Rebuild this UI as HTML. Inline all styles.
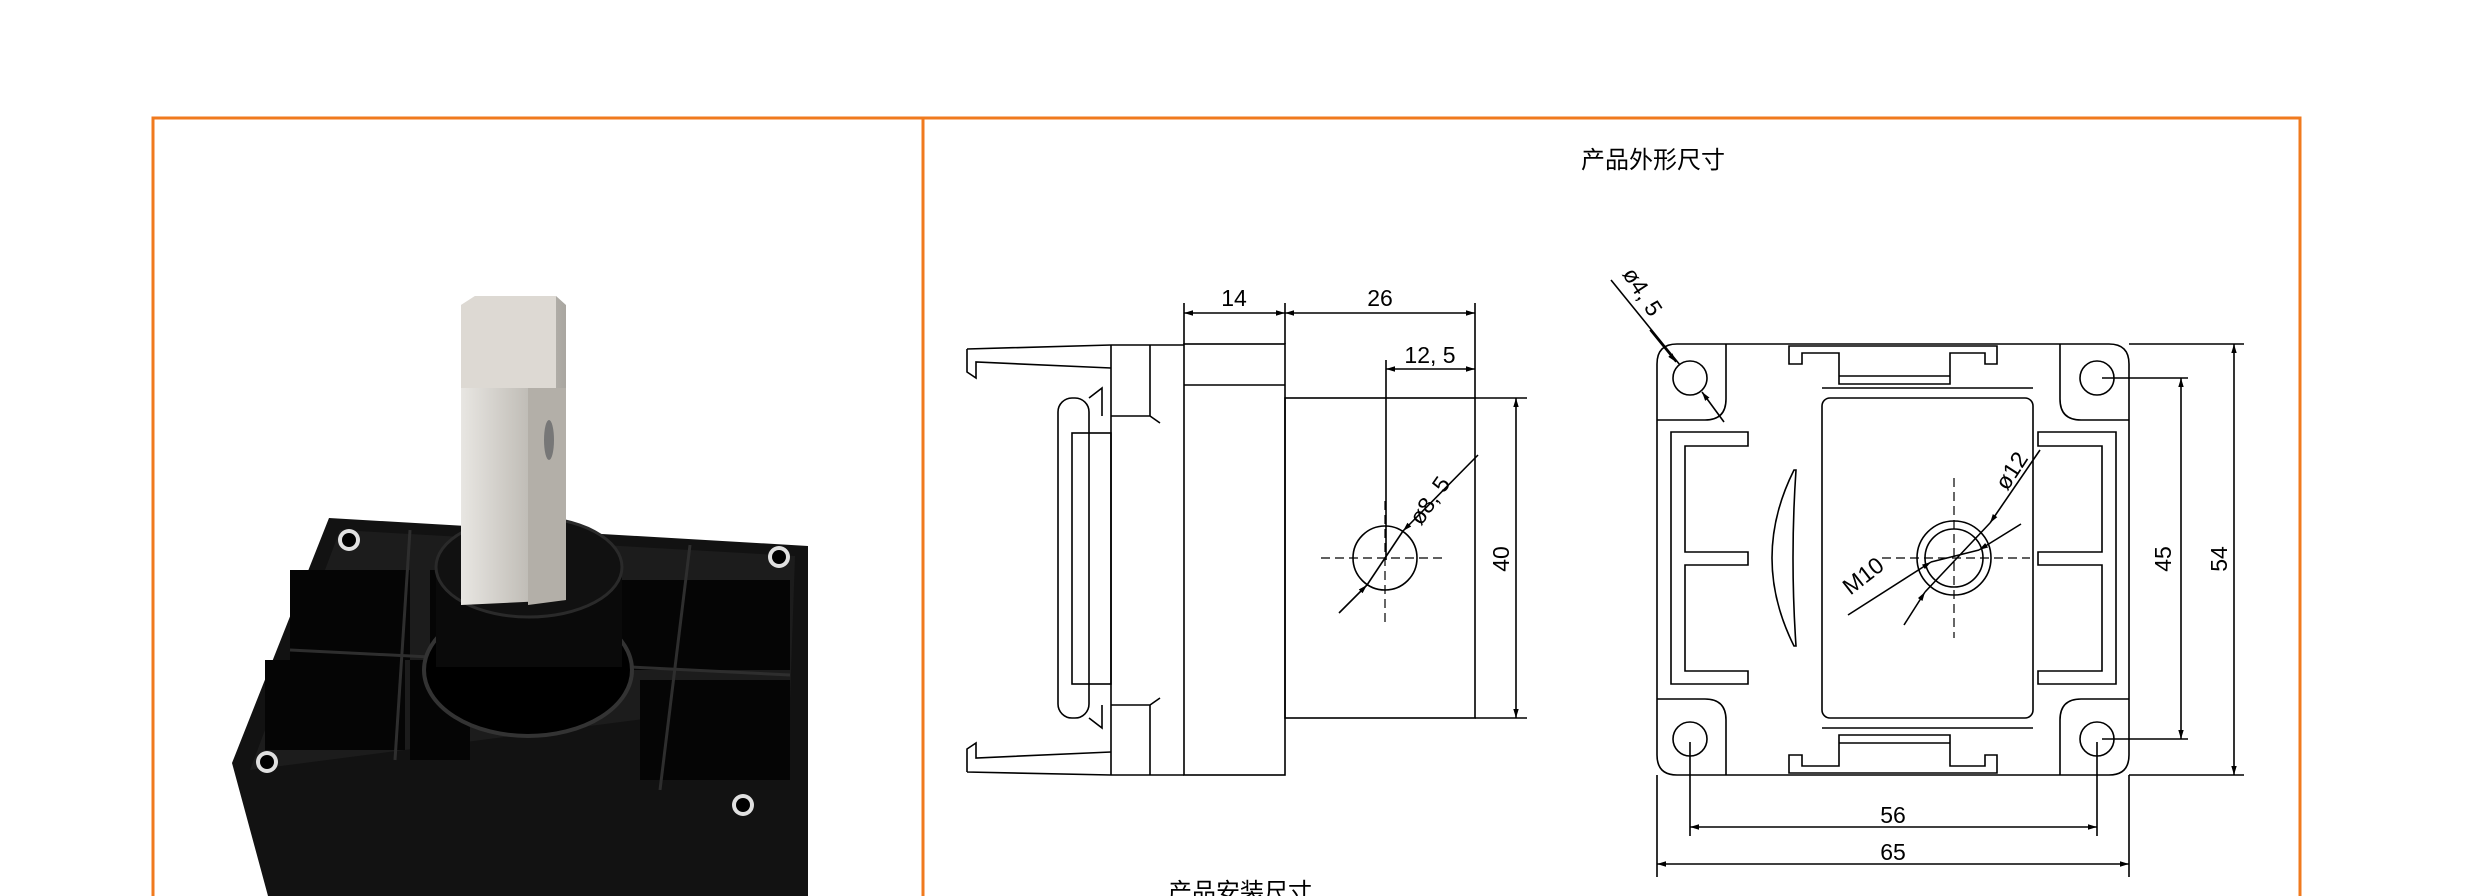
<!DOCTYPE html>
<html><head><meta charset="utf-8"><style>
html,body{margin:0;padding:0;background:#fff;}
svg{display:block;}
text{font-family:"Liberation Sans","Noto Sans CJK SC",sans-serif;fill:#000;}
</style></head><body>
<svg width="2480" height="896" viewBox="0 0 2480 896" xmlns="http://www.w3.org/2000/svg">
<defs>
<marker id="a" viewBox="0 0 10 10" refX="10" refY="5" markerWidth="9" markerHeight="9" orient="auto-start-reverse" markerUnits="userSpaceOnUse"><path d="M0,2 L10,5 L0,8 z" fill="#000"/></marker>
<linearGradient id="sh" x1="0" x2="1"><stop offset="0" stop-color="#e8e6e2"/><stop offset="0.5" stop-color="#c9c6c0"/><stop offset="1" stop-color="#a9a6a0"/></linearGradient>
</defs>
<path d="M153,896 V118 H2300 V896" fill="none" stroke="#f07a1e" stroke-width="3"/>
<line x1="923" y1="118" x2="923" y2="896" stroke="#f07a1e" stroke-width="3"/>

<!-- photo -->
<polygon points="329,518 808,546 808,896 268,896 232,763" fill="#121212"/>
<polygon points="340,530 795,556 790,700 250,770" fill="#1c1c1c"/>
<g fill="#050505">
<rect x="290" y="570" width="120" height="90"/><rect x="430" y="570" width="40" height="90"/>
<rect x="620" y="580" width="80" height="90"/><rect x="690" y="580" width="100" height="90"/>
<rect x="265" y="660" width="140" height="90"/><rect x="410" y="660" width="60" height="100"/>
<rect x="640" y="680" width="150" height="100"/>
</g>
<g stroke="#2e2e2e" stroke-width="3" fill="none">
<line x1="290" y1="650" x2="790" y2="675"/><line x1="410" y1="530" x2="395" y2="760"/><line x1="690" y1="545" x2="660" y2="790"/>
</g>
<g fill="#e0e0e0"><circle cx="349" cy="540" r="11"/><circle cx="779" cy="557" r="11"/><circle cx="267" cy="762" r="11"/><circle cx="743" cy="805" r="11"/></g>
<g fill="#000"><circle cx="349" cy="540" r="7"/><circle cx="779" cy="557" r="7"/><circle cx="267" cy="762" r="7"/><circle cx="743" cy="805" r="7"/></g>
<ellipse cx="528" cy="670" rx="104" ry="66" fill="#000" stroke="#333" stroke-width="4"/>
<rect x="436" y="567" width="186" height="100" fill="#0a0a0a"/>
<ellipse cx="529" cy="567" rx="93" ry="50" fill="#111" stroke="#2a2a2a" stroke-width="3"/>
<polygon points="461,305 475,296 556,296 566,305 566,600 461,605" fill="url(#sh)"/>
<polygon points="461,305 475,296 556,296 556,388 461,388" fill="#ddd9d3"/>
<polygon points="528,388 566,388 566,600 528,605" fill="#b3afa8"/>
<ellipse cx="549" cy="440" rx="5" ry="20" fill="#777"/>

<text x="1653" y="168" font-size="24" text-anchor="middle">产品外形尺寸</text>
<text x="1240" y="900" font-size="24" text-anchor="middle">产品安装尺寸</text>

<g fill="none" stroke="#000" stroke-width="1.6">
<rect x="1184" y="344" width="101" height="431"/>
<line x1="1184" y1="385" x2="1285" y2="385"/>
<rect x="1285" y="398" width="190" height="320"/>
<path d="M1111,345 H1184 M1111,775 H1184 M1111,345 V775 M1150,345 V416 L1160,423 M1150,775 V705 L1160,698 M1111,416 H1150 M1111,705 H1150"/>
<rect x="1058" y="398" width="31" height="320" rx="14"/>
<rect x="1072" y="433" width="39" height="251"/>
<path d="M1089,398 L1102,388 V416 M1089,718 L1102,728 V705"/>
<path d="M967,349 L1111,345 M967,349 V372 L976,378 V362 L1111,368 M967,772 L1111,775 M967,772 V749 L976,743 V758 L1111,752"/>
<path d="M1184,303 V344 M1285,303 V344 M1475,303 V398 M1386,360 V560 M1475,398 H1527 M1475,718 H1527"/>
<line x1="1184" y1="313" x2="1285" y2="313" marker-start="url(#a)" marker-end="url(#a)"/>
<line x1="1285" y1="313" x2="1475" y2="313" marker-start="url(#a)" marker-end="url(#a)"/>
<line x1="1386" y1="369" x2="1475" y2="369" marker-start="url(#a)" marker-end="url(#a)"/>
<line x1="1516" y1="398" x2="1516" y2="718" marker-start="url(#a)" marker-end="url(#a)"/>
<circle cx="1385" cy="558" r="32"/>
<path d="M1321,558 H1446 M1385,501 V623" stroke-dasharray="9,5" stroke-width="1.2"/>
<line x1="1339" y1="613" x2="1367" y2="585" marker-end="url(#a)"/>
<line x1="1478" y1="455" x2="1403" y2="531" marker-end="url(#a)"/>
<line x1="1367" y1="585" x2="1403" y2="531"/>

<path d="M1677,344 H2109 Q2129,344 2129,364 V755 Q2129,775 2109,775 H1677 Q1657,775 1657,755 V364 Q1657,344 1677,344 Z"/>
<path d="M1657,420 H1705 Q1726,420 1726,399 V344 M2129,420 H2081 Q2060,420 2060,399 V344 M1657,699 H1705 Q1726,699 1726,720 V775 M2129,699 H2081 Q2060,699 2060,720 V775"/>
<circle cx="1690" cy="378" r="17"/><circle cx="2097" cy="378" r="17"/>
<circle cx="1690" cy="739" r="17"/><circle cx="2097" cy="739" r="17"/>
<path d="M1748,432 H1671 V684 H1748 V671 H1685 V565 H1748 V552 H1685 V446 H1748 Z"/>
<path d="M2038,432 H2116 V684 H2038 V671 H2102 V565 H2038 V552 H2102 V446 H2038 Z"/>
<rect x="1822" y="398" width="211" height="320" rx="8"/>
<path d="M1822,388 H2033 M1822,728 H2033"/>
<path d="M1789,346 H1997 V364 H1985 V353 H1950 V376 H1839 V353 H1802 V364 H1789 Z M1839,376 V384 H1950 V376"/>
<path d="M1789,773 H1997 V755 H1985 V766 H1950 V743 H1839 V766 H1802 V755 H1789 Z M1839,743 V735 H1950 V743"/>
<path d="M1794,470 Q1750,558 1794,646 L1796,646 Q1790,558 1796,470 Z"/>
<circle cx="1954" cy="558" r="37"/><circle cx="1954" cy="558" r="29"/>
<path d="M1882,558 H2030 M1954,478 V638" stroke-dasharray="9,5" stroke-width="1.2"/>
<line x1="1904" y1="625" x2="1925" y2="592" marker-end="url(#a)"/>
<line x1="2040" y1="450" x2="1990" y2="523" marker-end="url(#a)"/>
<line x1="1925" y1="592" x2="1990" y2="523"/>
<line x1="1848" y1="615" x2="1931" y2="562" marker-end="url(#a)"/>
<line x1="2021" y1="524" x2="1979" y2="550" marker-end="url(#a)"/>
<line x1="1931" y1="562" x2="1979" y2="550"/>
<line x1="1611" y1="280" x2="1680" y2="365"/>
<line x1="1724" y1="422" x2="1702" y2="392" marker-end="url(#a)"/>
<line x1="1650" y1="330" x2="1676" y2="362" marker-end="url(#a)"/>
<path d="M2102,378 H2188 M2102,739 H2188 M2129,344 H2244 M2129,775 H2244 M1690,742 V836 M2097,742 V836 M1657,775 V877 M2129,775 V877"/>
<line x1="2181" y1="378" x2="2181" y2="739" marker-start="url(#a)" marker-end="url(#a)"/>
<line x1="2234" y1="344" x2="2234" y2="775" marker-start="url(#a)" marker-end="url(#a)"/>
<line x1="1690" y1="827" x2="2097" y2="827" marker-start="url(#a)" marker-end="url(#a)"/>
<line x1="1657" y1="864" x2="2129" y2="864" marker-start="url(#a)" marker-end="url(#a)"/>
</g>
<g font-size="23">
<text x="1234" y="306" text-anchor="middle">14</text>
<text x="1380" y="306" text-anchor="middle">26</text>
<text x="1430" y="363" text-anchor="middle">12, 5</text>
<text transform="translate(1509,559) rotate(-90)" text-anchor="middle">40</text>
<text transform="translate(1436,505) rotate(-55)" text-anchor="middle">ø8, 5</text>
<text transform="translate(2018,475) rotate(-57)" text-anchor="middle">ø12</text>
<text transform="translate(1868,582) rotate(-38)" text-anchor="middle">M10</text>
<text transform="translate(1636,296) rotate(57)" text-anchor="middle">ø4, 5</text>
<text transform="translate(2171,559) rotate(-90)" text-anchor="middle">45</text>
<text transform="translate(2227,559) rotate(-90)" text-anchor="middle">54</text>
<text x="1893" y="823" text-anchor="middle">56</text>
<text x="1893" y="860" text-anchor="middle">65</text>
</g>
</svg>
</body></html>
